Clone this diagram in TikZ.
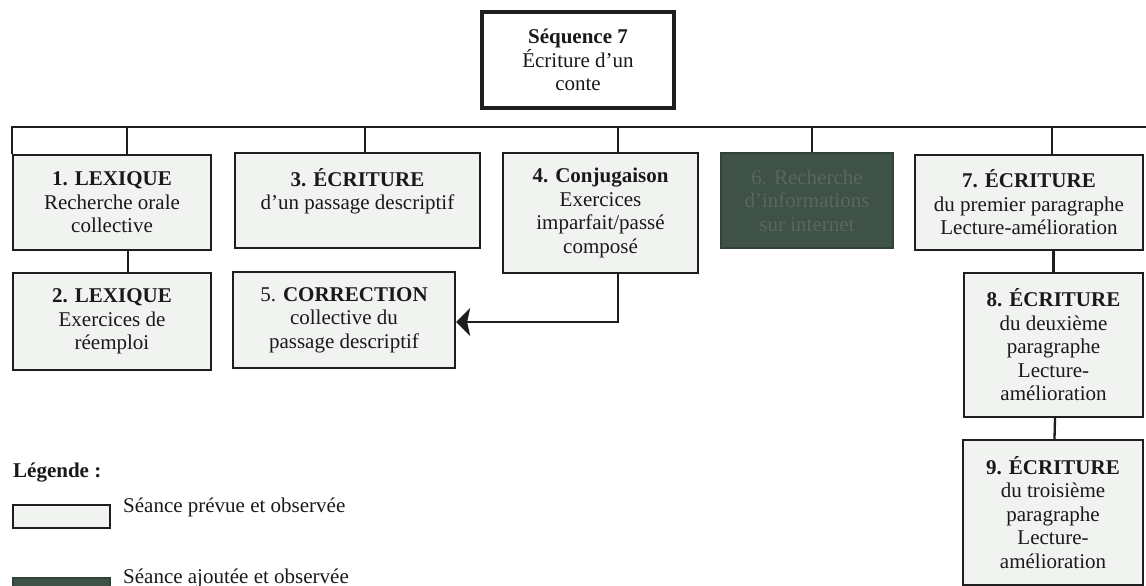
\documentclass[tikz,border=0pt]{standalone}
\usepackage{fontspec}
\setmainfont{Liberation Serif}
\usetikzlibrary{arrows.meta}
\definecolor{boxfill}{RGB}{240,243,240}
\definecolor{darkfill}{RGB}{62,82,72}
\definecolor{darktext}{RGB}{88,104,94}
\definecolor{ink}{RGB}{25,25,25}
\definecolor{linec}{RGB}{30,30,30}
\tikzset{
  box/.style={draw=linec, line width=2.3pt, fill=boxfill, inner sep=0pt, align=center,
    text=ink, font=\fontsize{21}{23.5}\selectfont},
  darkbox/.style={box, draw=darkfill!80!black, fill=darkfill, text=darktext},
  seqbox/.style={box, line width=3.6pt, fill=white},
  conn/.style={draw=linec, line width=2.3pt},
  legtext/.style={inner sep=0pt, text=ink, font=\fontsize{21}{23.5}\selectfont},
}
\begin{document}
\begin{tikzpicture}[x=1pt,y=-1pt]
\useasboundingbox (0,0) rectangle (1146,586);
\clip (0,0) rectangle (1146,586);
\fill[white] (0,0) rectangle (1146,586);

\node[seqbox, minimum width=192pt, minimum height=96pt] (seq) at (578,60)
  {\textbf{Séquence 7}\\Écriture d’un\\conte};

\node[box, minimum width=198pt, minimum height=95pt] (n1) at (112,202.5)
  {\textbf{1. LEXIQUE}\\Recherche orale\\collective};
\node[box, minimum width=198pt, minimum height=97pt] (n2) at (112,321.5)
  {\textbf{2. LEXIQUE}\\Exercices de\\réemploi};
\node[box, minimum width=245pt, minimum height=95pt] (n3) at (357.5,200.5)
  {\textbf{3. ÉCRITURE}\\d’un passage descriptif\\\mbox{}};
\node[box, minimum width=195pt, minimum height=120pt] (n4) at (600.5,213)
  {\textbf{4. Conjugaison}\\Exercices\\imparfait/passé\\composé};
\node[box, minimum width=222pt, minimum height=96pt] (n5) at (344,320)
  {5. \textbf{CORRECTION}\\collective du\\passage descriptif};
\node[darkbox, minimum width=172pt, minimum height=95pt] (n6) at (807,200.5)
  {6. Recherche\\d’informations\\sur internet};
\node[box, minimum width=228pt, minimum height=95pt] (n7) at (1029,202.5)
  {\textbf{7. ÉCRITURE}\\du premier paragraphe\\Lecture-amélioration};
\node[box, minimum width=179pt, minimum height=144pt] (n8) at (1053.5,345)
  {\textbf{8. ÉCRITURE}\\du deuxième\\paragraphe\\Lecture-\\amélioration};
\node[box, minimum width=180pt, minimum height=145pt] (n9) at (1053,512.5)
  {\textbf{9. ÉCRITURE}\\du troisième\\paragraphe\\Lecture-\\amélioration};

% bus
\coordinate (bl) at (12,127);
\coordinate (br) at (1146,127);
\coordinate (b1) at (127,127);
\coordinate (b3) at (365,127);
\coordinate (b4) at (618,127);
\coordinate (b6) at (812,127);
\coordinate (b7) at (1052,127);
\draw[conn] (bl |- n1.north) -- (bl) -- (br);
\draw[conn] (b1) -- (b1 |- n1.north);
\draw[conn] (b3) -- (b3 |- n3.north);
\draw[conn] (b4) -- (b4 |- n4.north);
\draw[conn] (b6) -- (b6 |- n6.north);
\draw[conn] (b7) -- (b7 |- n7.north);

\draw[conn] ([xshift=16pt]n1.south) -- ([xshift=16pt]n2.north);
\draw[conn] (n8.north |- n7.south) -- (n8.north);
\draw[conn] ([xshift=1.5pt]n8.south) -- ([xshift=1.5pt]n9.north);
\draw[conn, -{Stealth[length=14pt,width=28pt,inset=3pt]}]
  ([xshift=17.5pt]n4.south) |- ([yshift=-2pt]n5.east);

% legend
\node[legtext, anchor=base west] (leg) at (13,477) {\textbf{Légende :}};
\node[box, line width=2pt, minimum width=97pt, minimum height=23pt] (l1) at (61.5,516.5) {};
\node[legtext, anchor=base west] (l1t) at (123,512) {Séance prévue et observée};
\node[darkbox, line width=2pt, minimum width=97pt, minimum height=23pt] (l2) at (61.5,589) {};
\node[legtext, anchor=base west] (l2t) at (123,583) {Séance ajoutée et observée};
\end{tikzpicture}
\end{document}
